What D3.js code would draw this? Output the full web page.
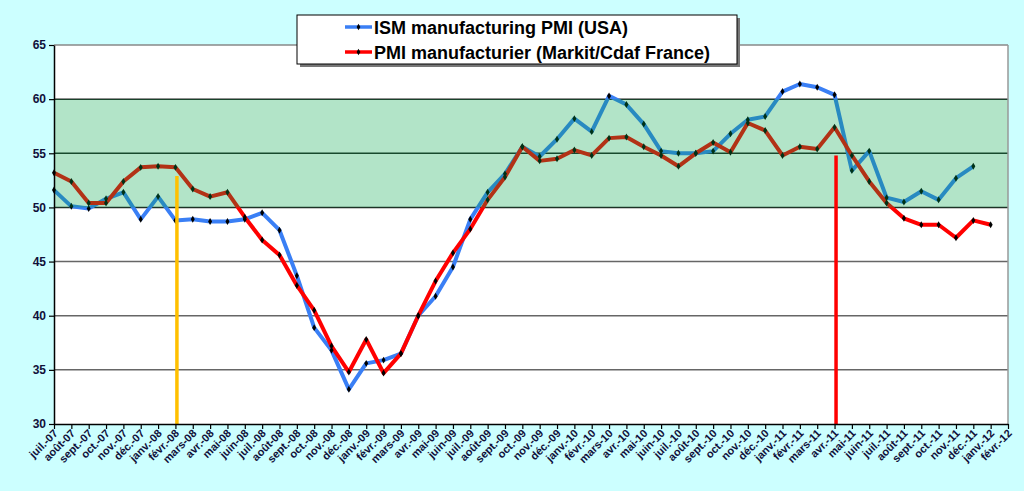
<!DOCTYPE html>
<html><head><meta charset="utf-8">
<script src="https://cdn.jsdelivr.net/npm/d3@7"></script>
<style>
html,body{margin:0;padding:0;background:#ccffff;}
svg{display:block;}
text{font-family:Arial,"Liberation Sans",sans-serif;}
</style></head>
<body>
<svg id="c" width="1024" height="491"></svg>
<script>
const months = ["juil.-07","août-07","sept.-07","oct.-07","nov.-07","déc.-07","janv.-08","févr.-08","mars-08","avr.-08","mai-08","juin-08","juil.-08","août-08","sept.-08","oct.-08","nov.-08","déc.-08","janv.-09","févr.-09","mars-09","avr.-09","mai-09","juin-09","juil.-09","août-09","sept.-09","oct.-09","nov.-09","déc.-09","janv.-10","févr.-10","mars-10","avr.-10","mai-10","juin-10","juil.-10","août-10","sept.-10","oct.-10","nov.-10","déc.-10","janv.-11","févr.-11","mars-11","avr.-11","mai-11","juin-11","juil.-11","août-11","sept.-11","oct.-11","nov.-11","déc.-11","janv.-12","févr.-12"];
const ismUSA = [51.6,50.1,49.9,50.8,51.4,48.9,51.0,48.8,48.9,48.7,48.7,48.9,49.5,47.9,
  43.7,38.9,36.8,33.2,35.6,35.9,36.5,40.0,41.8,44.5,48.9,51.4,
  53.1,55.6,54.7,56.3,58.2,57.0,60.3,59.5,57.7,55.2,55.0,55.0,55.2,56.8,58.1,58.4,
  60.7,61.4,61.1,60.4,53.4,55.2,50.9,50.5,51.5,50.7,52.7,53.8];
const pmiFrance = [53.2,52.4,50.4,50.4,52.4,53.7,53.8,53.7,51.7,51.0,51.4,49.1,47.0,45.6,
  42.8,40.5,37.2,34.8,37.8,34.7,36.5,40.0,43.2,45.8,48.0,50.7,
  52.8,55.6,54.3,54.5,55.3,54.8,56.4,56.5,55.6,54.8,53.8,55.0,56.0,55.1,57.8,57.1,
  54.8,55.6,55.4,57.4,54.8,52.4,50.4,49.0,48.4,48.4,47.2,48.8,48.4];
const yTicks = [30,35,40,45,50,55,60,65];
const band = [50,60];
const markers = [{month:"févr.-08", top:52.9, color:"#ffc000"},{month:"avr.-11", top:54.8, color:"#ff0000"}];
const seriesNames = ["ISM manufacturing PMI (USA)","PMI manufacturier (Markit/Cdaf France)"];
const seriesColors = ["#3a7ff5","#ff0000"];

const svg = d3.select("#c");
const L=54, R=1008, T=45, B=424;
const x = d3.scalePoint().domain(months).range([L,R]).padding(0);
const y = d3.scaleLinear().domain([30,65]).range([B,T]);

svg.append("rect").attr("width",1024).attr("height",491).attr("fill","#ccffff");
svg.append("rect").attr("x",L).attr("y",T).attr("width",R-L).attr("height",B-T).attr("fill","#fff");

// gridlines
svg.append("g").selectAll("line").data(yTicks.filter(v=>v>30)).join("line")
  .attr("x1",L).attr("x2",R).attr("y1",d=>y(d)).attr("y2",d=>y(d))
  .attr("stroke",d=>(d>=50&&d<=60)?"#222":(d===65?"#888":"#666"))
  .attr("stroke-width",1.5);

const series = [ismUSA, pmiFrance];
series.forEach((vals,k)=>{
  const pts = vals.map((v,i)=>[months[i],v]);
  svg.append("path").datum(pts)
    .attr("fill","none").attr("stroke",seriesColors[k]).attr("stroke-width",4)
    .attr("stroke-linejoin","round")
    .attr("d",d3.line().x(d=>x(d[0])).y(d=>y(d[1])));
});
series.forEach((vals,k)=>{
  svg.append("g").selectAll("path").data(vals.map((v,i)=>[months[i],v])).join("path")
    .attr("transform",d=>`translate(${x(d[0])},${y(d[1])})`)
    .attr("d",d3.symbol(d3.symbolDiamond,14)())
    .attr("fill","#000");
});

// band overlay
svg.append("rect").attr("x",L).attr("width",R-L)
  .attr("y",y(band[1])).attr("height",y(band[0])-y(band[1]))
  .attr("fill","rgb(0,167,72)").attr("fill-opacity",0.3);

// vertical annotation lines
svg.append("g").selectAll("line").data(markers).join("line")
  .attr("x1",d=>x(d.month)+1.5).attr("x2",d=>x(d.month)+1.5)
  .attr("y1",d=>y(d.top)).attr("y2",B)
  .attr("stroke",d=>d.color).attr("stroke-width",3.5);

// right border
svg.append("line").attr("x1",R).attr("x2",R).attr("y1",T).attr("y2",B).attr("stroke","#999").attr("stroke-width",1.5);

// axes
const ya = svg.append("g").attr("transform",`translate(${L},0)`)
  .call(d3.axisLeft(y).tickValues(yTicks).tickSize(5).tickSizeOuter(0).tickPadding(3));
ya.select(".domain").attr("stroke","#000").attr("stroke-width",1.5);
ya.selectAll(".tick line").attr("stroke","#000").attr("stroke-width",1.2);
ya.selectAll("text").attr("font-size",12).attr("font-weight","bold").attr("fill","#10103a").attr("font-family","Arial, 'Liberation Sans', sans-serif");

const xa = svg.append("g").attr("transform",`translate(0,${B})`)
  .call(d3.axisBottom(x).tickSize(5).tickSizeOuter(0));
xa.select(".domain").attr("stroke","#000").attr("stroke-width",1.5);
xa.selectAll(".tick line").attr("stroke","#000").attr("stroke-width",1.2);
xa.selectAll("text")
  .attr("font-size",11).attr("font-weight","bold").attr("fill","#10103a")
  .attr("font-family","Arial, 'Liberation Sans', sans-serif")
  .attr("text-anchor","end").attr("dy",0).attr("y",0)
  .attr("transform","translate(4,10) rotate(-45)");

// legend
const lg = svg.append("g");
lg.append("rect").attr("x",300).attr("y",18).attr("width",440).attr("height",49).attr("fill","#777");
lg.append("rect").attr("x",297).attr("y",15).attr("width",440).attr("height",49).attr("fill","#fff").attr("stroke","#000").attr("stroke-width",1);
seriesNames.forEach((n,k)=>{
  const yy = 27 + k*25;
  lg.append("line").attr("x1",345).attr("x2",372).attr("y1",yy).attr("y2",yy).attr("stroke",seriesColors[k]).attr("stroke-width",3.5);
  lg.append("path").attr("transform",`translate(358.5,${yy})`).attr("d",d3.symbol(d3.symbolDiamond,12)()).attr("fill","#000");
  lg.append("text").attr("x",374).attr("y",yy+6.5).attr("font-size",18).attr("font-weight","bold").attr("fill","#000").text(n);
});
</script>
</body></html>
